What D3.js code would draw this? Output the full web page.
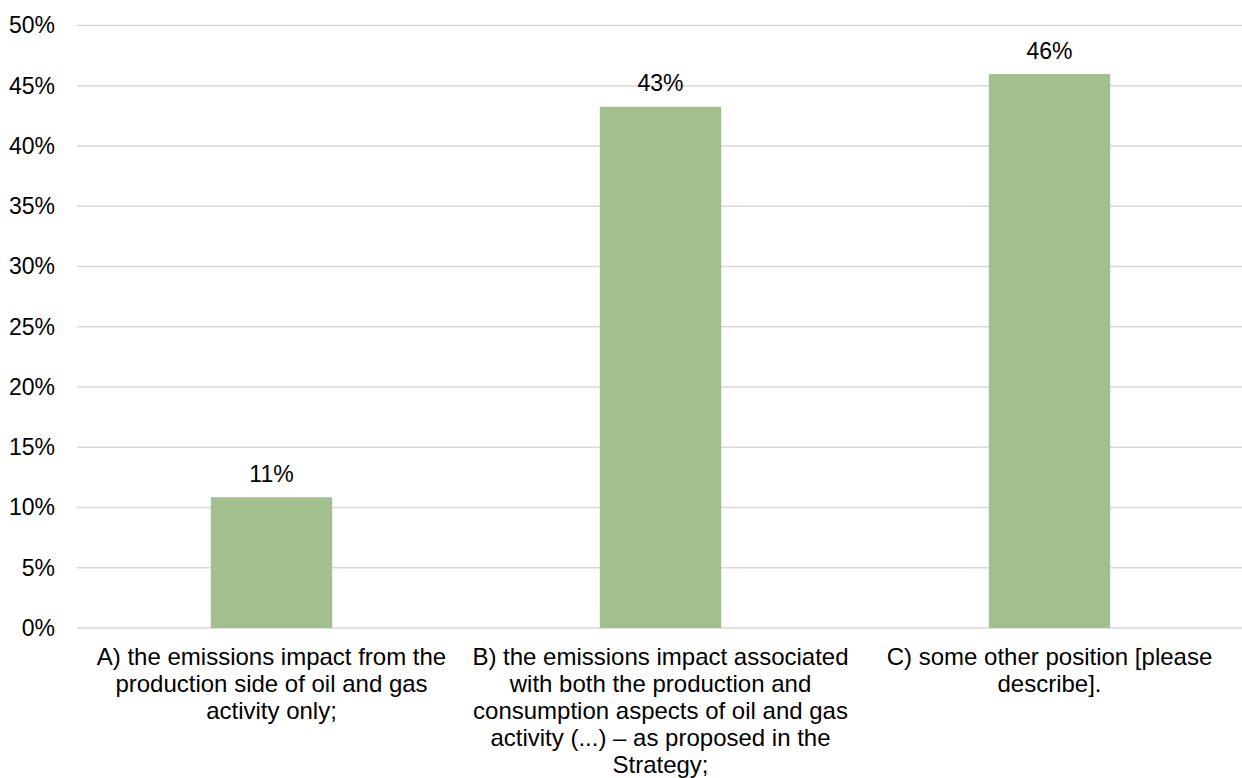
<!DOCTYPE html>
<html>
<head>
<meta charset="utf-8">
<script src="https://cdn.jsdelivr.net/npm/d3@7"></script>
<style>
  html, body { margin: 0; padding: 0; background: #fff; }
  svg { display: block; font-family: "Liberation Sans", Arial, sans-serif; }
</style>
</head>
<body>
<div id="wrapper"></div>
<script>
// data
const categories = ["A", "B", "C"]
const values = [10.85, 43.26, 45.97]
const categoryLines = [
  ["A) the emissions impact from the", "production side of oil and gas", "activity only;"],
  ["B) the emissions impact associated", "with both the production and", "consumption aspects of oil and gas", "activity (...) \u2013 as proposed in the", "Strategy;"],
  ["C) some other position [please", "describe]."]
]
const yTicks = [0, 5, 10, 15, 20, 25, 30, 35, 40, 45, 50]

const dataset = categories.map((c, i) => ({ cat: c, value: values[i], lines: categoryLines[i] }))

const dimensions = {
  width: 1242,
  height: 778,
  margin: { top: 25.5, right: -2, bottom: 150, left: 77 }
}
dimensions.boundedWidth = dimensions.width - dimensions.margin.left - dimensions.margin.right
dimensions.boundedHeight = dimensions.height - dimensions.margin.top - dimensions.margin.bottom

const svg = d3.select("#wrapper")
  .append("svg")
    .attr("width", dimensions.width)
    .attr("height", dimensions.height)

const bounds = svg.append("g")
  .attr("transform", `translate(${dimensions.margin.left},${dimensions.margin.top})`)

const xScale = d3.scaleBand()
  .domain(categories)
  .range([0, dimensions.boundedWidth])
  .paddingInner(0.688)
  .paddingOuter(0.344)

const yScale = d3.scaleLinear()
  .domain([0, 50])
  .range([dimensions.boundedHeight, 0])

// gridlines
bounds.append("g")
  .selectAll("line")
  .data(yTicks)
  .join("line")
    .attr("x1", 0)
    .attr("x2", dimensions.boundedWidth)
    .attr("y1", d => yScale(d))
    .attr("y2", d => yScale(d))
    .attr("stroke", "#d9d9d9")
    .attr("stroke-width", 1.5)

// y axis
const yAxis = bounds.append("g")
  .call(d3.axisLeft(yScale).tickValues(yTicks).tickFormat(d => d + "%").tickSize(0).tickPadding(22))
yAxis.select(".domain").remove()
yAxis.selectAll("text")
  .attr("font-size", 23)
  .attr("fill", "#000")
  .attr("font-family", "Liberation Sans, Arial, sans-serif")

// bars
bounds.selectAll("rect.bar")
  .data(dataset)
  .join("rect")
    .attr("class", "bar")
    .attr("x", d => xScale(d.cat))
    .attr("width", xScale.bandwidth())
    .attr("y", d => yScale(d.value))
    .attr("height", d => yScale(0) - yScale(d.value))
    .attr("fill", "#a2bf8e")

// data labels
bounds.selectAll("text.label")
  .data(dataset)
  .join("text")
    .attr("class", "label")
    .attr("x", d => xScale(d.cat) + xScale.bandwidth() / 2)
    .attr("y", d => yScale(d.value) - 15.5)
    .attr("text-anchor", "middle")
    .attr("font-size", 23)
    .attr("fill", "#000")
    .text(d => Math.round(d.value) + "%")

// category labels
const catGroups = bounds.selectAll("text.cat")
  .data(dataset)
  .join("text")
    .attr("class", "cat")
    .attr("text-anchor", "middle")
    .attr("font-size", 24)
    .attr("fill", "#000")

catGroups.selectAll("tspan")
  .data(d => d.lines.map(l => ({ line: l, x: xScale(d.cat) + xScale.bandwidth() / 2 })))
  .join("tspan")
    .attr("x", d => d.x)
    .attr("y", (d, i) => yScale(0) + 37 + i * 27)
    .text(d => d.line)
</script>
</body>
</html>
